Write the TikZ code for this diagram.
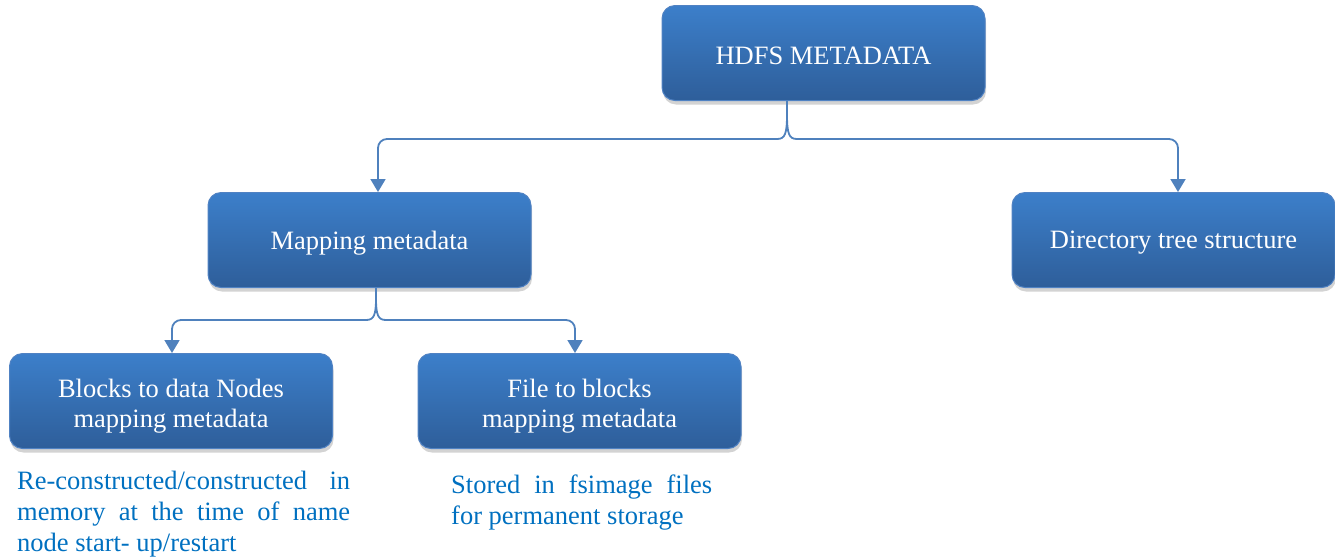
\documentclass[tikz,border=0pt]{standalone}
\usepackage{fontspec}
\setmainfont{Liberation Serif}
\usetikzlibrary{arrows.meta,shadows}
\definecolor{boxtop}{RGB}{60,127,202}
\definecolor{boxbot}{RGB}{46,94,154}
\definecolor{boxline}{RGB}{80,130,195}
\definecolor{linkc}{RGB}{79,129,189}
\definecolor{notec}{RGB}{0,112,192}
\tikzset{
  box/.style={rounded corners=13pt, top color=boxtop, bottom color=boxbot,
    draw=boxline, line width=1pt, minimum width=323pt, minimum height=95pt,
    drop shadow={opacity=0.35, shadow xshift=1pt, shadow yshift=-4pt}},
  boxtext/.style={text=white, align=center, inner sep=0pt,
    font=\fontsize{26.5}{30}\selectfont},
  link/.style={draw=linkc, line width=1.8pt},
  arm/.style={link, rounded corners=9pt},
  tip/.style={-{Triangle[width=15pt,length=13pt]}},
  note/.style={text=notec, align=left, anchor=north west, inner sep=0pt,
    font=\fontsize{26.5}{31}\selectfont}
}
\begin{document}
\begin{tikzpicture}[x=1pt,y=-1pt]
\useasboundingbox (0,0) rectangle (1335,558);

% boxes
\node[box] (root) at (823.5,53) {};
\node[box] (map)  at (369.5,240) {};
\node[box] (dir)  at (1173.5,240) {};
\node[box] (blk)  at (171,401) {};
\node[box] (file) at (579.5,401) {};

% box captions
\node[boxtext] (rootT) at ([yshift=-3pt]root.center) {HDFS METADATA};
\node[boxtext] (mapT)  at ([yshift=-3pt]map.center) {Mapping metadata};
\node[boxtext] (dirT)  at ([yshift=-3pt]dir.center) {Directory tree structure};
\node[boxtext] (blkT)  at ([yshift=-5pt]blk.center) {Blocks to data Nodes\\mapping metadata};
\node[boxtext] (fileT) at ([yshift=-5pt]file.center) {File to blocks\\mapping metadata};

% brace-shaped branch points under the parent boxes
\coordinate (rs) at (787,114);
\coordinate (rl) at (777,139);
\coordinate (rr) at (797,139);
\coordinate (ms) at (376,298);
\coordinate (ml) at (366,320);
\coordinate (mr) at (386,320);

% root -> map, root -> dir
\draw[link] (root.south -| rs) -- (rs)
  .. controls (787,134) and (785,139) .. (rl);
\draw[link] (rs) .. controls (787,134) and (789,139) .. (rr);
\draw[arm,tip] (rl) -- (378,139) -- (map.north -| 378,0);
\draw[arm,tip] (rr) -- (1178,139) -- (dir.north -| 1178,0);

% map -> blk, map -> file
\draw[link] (map.south -| ms) -- (ms)
  .. controls (376,315) and (374,320) .. (ml);
\draw[link] (ms) .. controls (376,315) and (378,320) .. (mr);
\draw[arm,tip] (ml) -- (172,320) -- (blk.north -| 172,0);
\draw[arm,tip] (mr) -- (575,320) -- (file.north -| 575,0);

% notes under the leaf boxes
\node[note] (n1) at (17,471)
  {\makebox[333pt][s]{Re-constructed/constructed\ \ in}\\
   \makebox[333pt][s]{memory at the time of name}\\
   node start- up/restart};
\node[note] (n2) at (451,475)
  {\makebox[261pt][s]{Stored in fsimage files}\\
   for permanent storage};
\end{tikzpicture}
\end{document}
